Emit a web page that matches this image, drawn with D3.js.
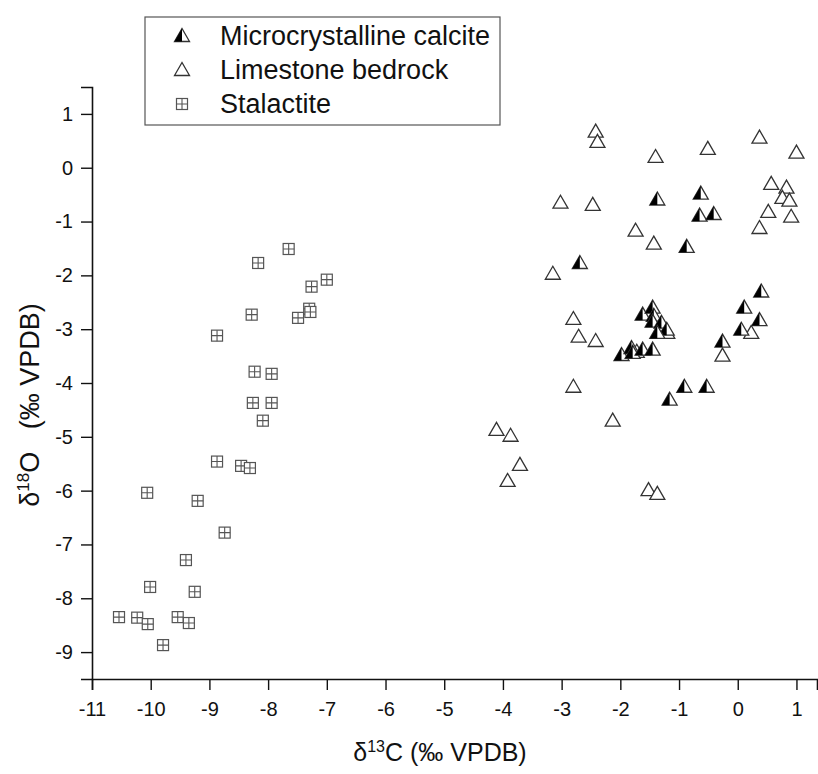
<!DOCTYPE html>
<html>
<head>
<meta charset="utf-8">
<script src="https://cdn.jsdelivr.net/npm/d3@7"></script>
<style>
  body { margin: 0; background: #fff; }
  svg { display: block; font-family: "Liberation Sans", Arial, sans-serif; }
</style>
</head>
<body>
<svg id="chart" width="818" height="774"></svg>
<script>
// d13C / d18O values
const microX = [-1.37, -0.63, -0.65, -0.41, -0.87, -2.69, 0.40, 0.11, 0.37, 0.06, -0.26, -0.91, -0.53, -1.16,
  -1.62, -1.45, -1.43, -1.45, -1.30, -1.21, -1.37, -1.98, -1.81, -1.79, -1.62, -1.45];
const microY = [-0.59, -0.48, -0.89, -0.86, -1.47, -1.77, -2.30, -2.60, -2.83, -3.01, -3.23, -4.07, -4.07, -4.31,
  -2.73, -2.60, -2.75, -2.86, -2.88, -3.01, -3.07, -3.48, -3.35, -3.44, -3.38, -3.38];

const limeX = [-2.42, -2.39, -1.40, -0.51, 0.37, 1.00, 0.57, 0.83, 0.76, 0.88, 0.52, 0.91, 0.37, -3.02, -2.47,
  -1.74, -1.43, -3.15, -2.80, -2.71, -2.42, -2.80, -2.13, -4.11, -3.87, -3.71, -3.92, -1.52, -1.37, -0.26,
  0.23, -1.20, -1.72, -1.28];
const limeY = [0.67, 0.48, 0.20, 0.35, 0.56, 0.28, -0.30, -0.37, -0.56, -0.61, -0.82, -0.91, -1.12, -0.65, -0.69,
  -1.17, -1.41, -1.97, -2.81, -3.14, -3.22, -4.07, -4.70, -4.87, -4.98, -5.52, -5.82, -5.99, -6.06, -3.49,
  -3.07, -3.07, -3.42, -2.97];

const stalX = [-7.65, -8.17, -7.00, -7.26, -7.30, -7.28, -7.49, -8.28, -8.87, -8.23, -7.94, -8.26, -7.94, -8.09,
  -8.87, -8.46, -8.31, -10.06, -9.20, -8.74, -9.40, -10.01, -9.25, -10.54, -10.23, -10.05, -9.54, -9.35, -9.79];
const stalY = [-1.51, -1.77, -2.08, -2.21, -2.62, -2.68, -2.79, -2.73, -3.12, -3.79, -3.83, -4.37, -4.37, -4.70,
  -5.46, -5.54, -5.58, -6.04, -6.19, -6.78, -7.29, -7.79, -7.88, -8.35, -8.36, -8.48, -8.35, -8.46, -8.87];

const xTicks = [-11, -10, -9, -8, -7, -6, -5, -4, -3, -2, -1, 0, 1];
const yTicks = [1, 0, -1, -2, -3, -4, -5, -6, -7, -8, -9];
const seriesNames = ['Microcrystalline calcite', 'Limestone bedrock', 'Stalactite'];

const svg = d3.select('#chart');

const x = d3.scaleLinear().domain([-11, 1.35]).range([92, 817]);
const y = d3.scaleLinear().domain([-9.5, 1.5]).range([679, 87]);

// marker shapes
function openTri(g) {
  g.append('path').attr('d', 'M0,-7.5L-7.5,5.5L7.5,5.5Z')
    .attr('fill', '#fff').attr('stroke', '#333').attr('stroke-width', 1.3);
}
function halfTri(g) {
  openTri(g);
  g.append('path').attr('d', 'M0,-7.5L-7.5,5.5L0,5.5Z').attr('fill', '#000');
}
function crossSq(g) {
  g.append('rect').attr('x', -5.5).attr('y', -5.5).attr('width', 11).attr('height', 11)
    .attr('fill', '#fff').attr('stroke', '#555').attr('stroke-width', 1.2);
  g.append('path').attr('d', 'M0,-5.5V5.5M-5.5,0H5.5')
    .attr('stroke', '#555').attr('stroke-width', 1.1);
}

// axes (hyphen minus as in the original)
const fmt = d => String(d);

const xAxisG = svg.append('g').attr('transform', `translate(0,${y(-9.5)})`);
xAxisG.call(d3.axisBottom(x).tickValues(d3.range(-10.5, 1.4, 1)).tickSize(5).tickFormat(''));
xAxisG.call(d3.axisBottom(x).tickValues(xTicks).tickSize(11).tickFormat(fmt))
  .call(g => g.selectAll('.tick text').attr('y', 37).attr('dy', 0)
    .style('font-size', '20px').attr('fill', '#111'));

const yAxisG = svg.append('g').attr('transform', `translate(${x(-11)},0)`);
yAxisG.call(d3.axisLeft(y).tickValues(d3.range(-9.5, 1.6, 1)).tickSize(5).tickFormat(''));
yAxisG.call(d3.axisLeft(y).tickValues(yTicks).tickSize(11).tickFormat(fmt))
  .call(g => g.selectAll('.tick text').attr('x', -19).style('font-size', '20px').attr('fill', '#111'));

svg.selectAll('.domain').attr('stroke', '#111').attr('stroke-width', 1.6);
svg.selectAll('.tick line').attr('stroke', '#111').attr('stroke-width', 1.4);

// axis titles
const xt = svg.append('text').attr('x', 440).attr('y', 761).attr('text-anchor', 'middle')
  .style('font-size', '25px').attr('fill', '#111');
xt.append('tspan').text('δ');
xt.append('tspan').attr('dy', -9).style('font-size', '16px').text('13');
xt.append('tspan').attr('dy', 9).text('C (‰ VPDB)');

const yt = svg.append('text').attr('transform', 'translate(39,405) rotate(-90)').attr('text-anchor', 'middle')
  .style('font-size', '27px').attr('fill', '#111').style('white-space', 'pre');
yt.append('tspan').text('δ');
yt.append('tspan').attr('dy', -10).style('font-size', '17px').text('18');
yt.append('tspan').attr('dy', 10).text('O   (‰ VPDB)');

// points
const stal = stalX.map((v, i) => [v, stalY[i]]);
const lime = limeX.map((v, i) => [v, limeY[i]]);
const micro = microX.map((v, i) => [v, microY[i]]);

svg.append('g').selectAll('g').data(stal).join('g')
  .attr('transform', d => `translate(${x(d[0])},${y(d[1])})`).each(function () { crossSq(d3.select(this)); });
svg.append('g').selectAll('g').data(lime).join('g')
  .attr('transform', d => `translate(${x(d[0])},${y(d[1])})`).each(function () { openTri(d3.select(this)); });
svg.append('g').selectAll('g').data(micro).join('g')
  .attr('transform', d => `translate(${x(d[0])},${y(d[1])})`).each(function () { halfTri(d3.select(this)); });

// legend
const legend = svg.append('g');
legend.append('rect').attr('x', 145).attr('y', 17).attr('width', 355).attr('height', 108)
  .attr('fill', '#fff').attr('stroke', '#555').attr('stroke-width', 1.2);
const markers = [halfTri, openTri, crossSq];
seriesNames.forEach((name, i) => {
  const cy = 36 + i * 34;
  markers[i](legend.append('g').attr('transform', `translate(182,${cy})`));
  legend.append('text').attr('x', 220).attr('y', cy + 9).style('font-size', '27px')
    .attr('fill', '#111').text(name);
});
</script>
</body>
</html>
